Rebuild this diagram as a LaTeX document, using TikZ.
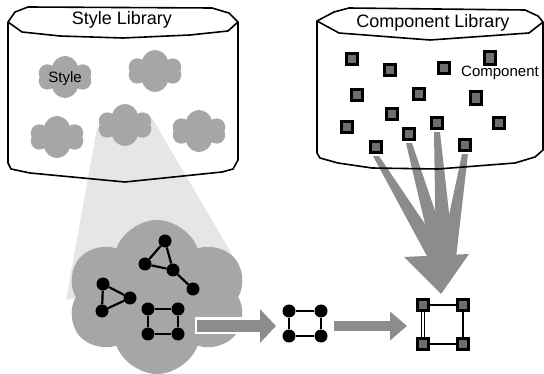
\documentclass[tikz,border=0pt]{standalone}
\usepackage{fontspec}
\setmainfont{Liberation Sans}
\usetikzlibrary{shapes.symbols,arrows.meta,calc}
\definecolor{cloudgray}{RGB}{166,166,166}
\definecolor{beamgray}{RGB}{230,230,230}
\definecolor{arrowgray}{RGB}{140,140,140}
\definecolor{compgray}{RGB}{110,110,110}

\begin{document}
\begin{tikzpicture}
        [x=1pt, y=-1pt,
        puff/.style={cloud, cloud puffs=6, cloud puff arc=150, cloud ignores aspect, fill=cloudgray, minimum width=54pt, minimum height=42pt, inner sep=0pt},
        dot/.style={circle, fill=black, minimum size=13pt, inner sep=0pt},
        comp/.style={rectangle, draw=black, line width=2.6pt, fill=compgray, minimum size=11.5pt, inner sep=0pt},
        link/.style={line width=2.2pt},
        libtitle/.style={font=\fontsize{18}{20}\selectfont},
        tag/.style={font=\fontsize{15}{17}\selectfont}]
        \useasboundingbox (0,0) rectangle (544,374);

        % zoom beam
        \fill[beamgray] (97,128) -- (152,118) -- (240,268) -- (66,300) -- cycle;

        % style library
        \draw[line width=1.6pt, line join=round] (8,22) -- (15,12) -- (28,7) -- (212,8) -- (229,13) -- (238,22) -- (228,31) -- (190,35) -- (123,38) -- (60,36) -- (22,32) -- cycle;
        \draw[line width=1.6pt, line join=round] (8,22) -- (8,163) -- (11,169) -- (30,173) -- (125,182) -- (222,172) -- (233,169) -- (238,160) -- (238,22);
        \node[libtitle] (stitle) at (122,20) {Style Library};

        \node[puff] (s1) at (65,77) {};
        \node[puff, shape border rotate=20] (s2) at (155,71) {};
        \node[puff, shape border rotate=10] (s3) at (57,137) {};
        \node[puff] (s4) at (125,125) {};
        \node[puff, shape border rotate=30] (s5) at (199,131) {};
        \node[tag] (slabel) at (65,79) {Style};

        % component library
        \node[comp] (c1) at (352,59) {};
        \node[comp] (c2) at (390,70) {};
        \node[comp] (c3) at (444,68) {};
        \node[comp, minimum height=13.5pt] (c4) at (490,58) {};
        \node[comp] (c5) at (357,95) {};
        \node[comp] (c6) at (419,94) {};
        \node[comp, minimum height=13.5pt] (c7) at (476,98) {};
        \node[comp] (c8) at (392,114) {};
        \node[comp] (c9) at (347,127) {};
        \node[comp] (c10) at (437,123) {};
        \node[comp] (c11) at (499,123) {};
        \node[comp] (c12) at (409,134) {};
        \node[comp] (c13) at (376,147) {};
        \node[comp] (c14) at (465,145) {};
        \node[tag] (clabel) at (500,73) {Component};

        % fan of components into one arrow
        \fill[arrowgray] ($(c13.south)+(-3,2)$) -- ($(c13.south)+(3,2)$) -- (448,258) -- (428,258) -- cycle;
        \fill[arrowgray] ($(c12.south)+(-3,2)$) -- ($(c12.south)+(3,2)$) -- (451,258) -- (433,258) -- cycle;
        \fill[arrowgray] ($(c10.south)+(-3,2)$) -- ($(c10.south)+(3,2)$) -- (454,258) -- (436,258) -- cycle;
        \fill[arrowgray] ($(c14.south)+(-3,2)$) -- ($(c14.south)+(3,2)$) -- (456,258) -- (440,258) -- cycle;
        \coordinate (fantip) at (441,294);
        \fill[arrowgray] (404,257) -- (469,254) -- (fantip) -- cycle;

        \draw[line width=1.6pt, line join=round] (317,21) -- (334,12) -- (349,8) -- (525,10) -- (538,16) -- (543,22) -- (529,33) -- (430,40) -- (339,33) -- cycle;
        \draw[line width=1.6pt, line join=round] (317,21) -- (317,153) -- (320,158) -- (338,163) -- (372,168) -- (438,169) -- (515,163) -- (535,157) -- (543,150) -- (543,22);
        \node[libtitle] (ctitle) at (433,23) {Component Library};

        % chosen style
        \node[puff, cloud puffs=6, cloud puff arc=140, shape border rotate=15, minimum width=180pt, minimum height=154pt] (big) at (157,297) {};

        \node[dot] (t1) at (165,241) {};
        \node[dot] (t2) at (145,264) {};
        \node[dot] (t3) at (173,270) {};
        \node[dot] (t4) at (193,289) {};
        \draw[link] (t1) -- (t2);
        \draw[link] (t1) -- (t3);
        \draw[link] (t2) -- (t3);
        \draw[link] (t3) -- (t4);

        \node[dot] (u1) at (103,284) {};
        \node[dot] (u2) at (130,298) {};
        \node[dot] (u3) at (102,311) {};
        \draw[link] (u1) -- (u2);
        \draw[link] (u2) -- (u3);
        \draw[link] (u3) -- (u1);

        \node[dot] (q1) at (148,309) {};
        \node[dot] (q2) at (178,309) {};
        \node[dot] (q3) at (148,334) {};
        \node[dot] (q4) at (178,334) {};
        \draw[link] (q1) -- (q2);
        \draw[link] (q2) -- (q4);
        \draw[link] (q4) -- (q3);
        \draw[link] (q3) -- (q1);

        % picked pattern
        \coordinate (a1s) at (197,326);
        \coordinate (a1e) at (276,326);
        \draw[white, line width=17pt, shorten <=-2pt] (a1s) -- (262,326);
        \draw[arrowgray, line width=12pt, -{Triangle[length=16pt,width=33pt]}] (a1s) -- (a1e);

        \node[dot] (m1) at (289,311) {};
        \node[dot] (m2) at (321,311) {};
        \node[dot] (m3) at (289,336) {};
        \node[dot] (m4) at (321,336) {};
        \draw[link] (m1) -- (m2);
        \draw[link] (m2) -- (m4);
        \draw[link] (m4) -- (m3);
        \draw[link] (m3) -- (m1);

        \coordinate (a2s) at (334,326);
        \coordinate (a2e) at (407,326);
        \draw[arrowgray, line width=10pt, -{Triangle[length=17pt,width=28pt]}] (a2s) -- (a2e);

        % result
        \node[comp] (r1) at (423,305) {};
        \node[comp] (r2) at (463,305) {};
        \node[comp] (r3) at (423,344) {};
        \node[comp] (r4) at (463,344) {};
        \draw[line width=2pt] (r1) -- (r2);
        \draw[line width=1.8pt] (r2) -- (r4);
        \draw[line width=2.2pt] (r4) -- (r3);
        \draw[double, double distance=2.2pt, line width=1.3pt] (r3) -- (r1);

    \end{tikzpicture}
\end{document}
